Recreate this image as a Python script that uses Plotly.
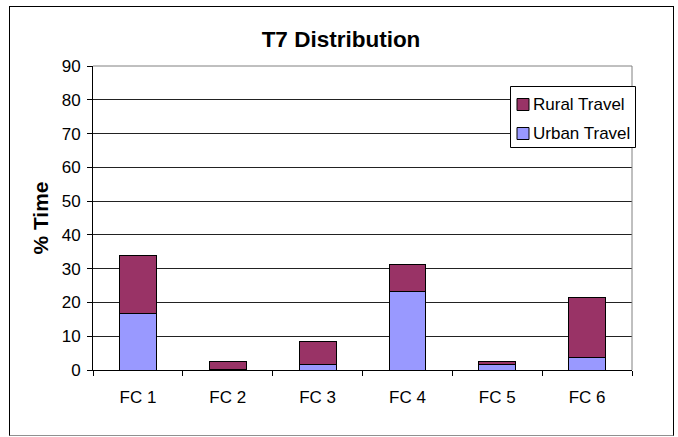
import plotly.graph_objects as go

categories = ["FC 1", "FC 2", "FC 3", "FC 4", "FC 5", "FC 6"]
urban_travel = [16.8, 0.1, 1.7, 23.1, 1.6, 3.8]
rural_travel = [17.2, 2.4, 6.6, 8.2, 0.9, 17.6]
y_ticks = [0, 10, 20, 30, 40, 50, 60, 70, 80, 90]
series_names = ["Rural Travel", "Urban Travel"]
series_colors = {"Rural Travel": "#993366", "Urban Travel": "#9999FF"}

FONT = "Liberation Sans, Arial, sans-serif"

fig = go.Figure()
fig.add_trace(go.Bar(
    x=categories, y=urban_travel, name="Urban Travel",
    marker=dict(color=series_colors["Urban Travel"], line=dict(color="black", width=1)),
))
fig.add_trace(go.Bar(
    x=categories, y=rural_travel, name="Rural Travel",
    marker=dict(color=series_colors["Rural Travel"], line=dict(color="black", width=1)),
))

W, H = 678, 437
L, R, T, B = 93, 46, 66, 67
pw, ph = W - L - R, H - T - B

def px(xw):
    return (xw - L) / pw

def py(yw):
    return 1 - (yw - T) / ph

shapes = [
    # plot area top/right border (grey)
    dict(type="line", xref="paper", yref="paper", x0=0, x1=1, y0=1, y1=1,
         line=dict(color="#808080", width=1)),
    dict(type="line", xref="paper", yref="paper", x0=1, x1=1, y0=0, y1=1,
         line=dict(color="#808080", width=1)),
    # outer chart border
    dict(type="line", xref="paper", yref="paper",
         x0=px(9.5), x1=px(9.5), y0=py(436), y1=py(6),
         line=dict(color="black", width=1)),
    dict(type="line", xref="paper", yref="paper",
         x0=px(673.5), x1=px(673.5), y0=py(436), y1=py(6),
         line=dict(color="black", width=1)),
    dict(type="line", xref="paper", yref="paper",
         x0=px(9.5), x1=px(673.5), y0=py(6.5), y1=py(6.5),
         line=dict(color="black", width=1)),
    dict(type="line", xref="paper", yref="paper",
         x0=px(9.5), x1=px(673.5), y0=py(435.5), y1=py(435.5),
         line=dict(color="#909090", width=1)),
    # legend box
    dict(type="rect", xref="paper", yref="paper",
         x0=px(510.5), x1=px(635.5), y0=py(147.5), y1=py(86.5),
         line=dict(color="black", width=1), fillcolor="white"),
]
annotations = []
for i, name in enumerate(series_names):
    cy = 104.5 + i * 29
    shapes.append(dict(type="rect", xref="paper", yref="paper",
                       x0=px(517), x1=px(529), y0=py(cy + 6), y1=py(cy - 6),
                       line=dict(color="black", width=1),
                       fillcolor=series_colors[name]))
    annotations.append(dict(text=name, xref="paper", yref="paper",
                            x=px(531), y=py(cy), xanchor="left", yanchor="middle",
                            showarrow=False,
                            font=dict(family=FONT, size=17, color="black")))

fig.update_layout(
    width=W, height=H,
    margin=dict(l=L, r=R, t=T, b=B),
    barmode="stack",
    bargap=0.59,
    plot_bgcolor="white",
    paper_bgcolor="white",
    font=dict(family=FONT, size=17, color="black"),
    title=dict(text="<b>T7 Distribution</b>", x=341 / W, xanchor="center",
               y=1 - 39 / H, yanchor="middle",
               font=dict(family=FONT, size=22.5, color="black")),
    showlegend=False,
    xaxis=dict(
        showline=True, linecolor="black", linewidth=1,
        ticks="outside", tickson="boundaries", ticklen=5, tickcolor="black",
        showgrid=False,
        ticklabelstandoff=12,
        tickfont=dict(family=FONT, size=17),
    ),
    yaxis=dict(
        range=[0, 90], tickvals=y_ticks,
        showline=True, linecolor="black", linewidth=1,
        ticks="outside", ticklen=5, tickcolor="black",
        showgrid=True, gridcolor="#222222", gridwidth=1,
        zeroline=False,
        ticklabelstandoff=3,
        tickfont=dict(family=FONT, size=17),
        title=dict(text="<b>% Time</b>", standoff=7,
                   font=dict(family=FONT, size=21)),
    ),
    shapes=shapes,
    annotations=annotations,
)

fig.write_html(
    "out.html",
    config={"displayModeBar": False},
    post_script="document.body.style.margin='0';document.body.style.overflow='hidden';",
)
